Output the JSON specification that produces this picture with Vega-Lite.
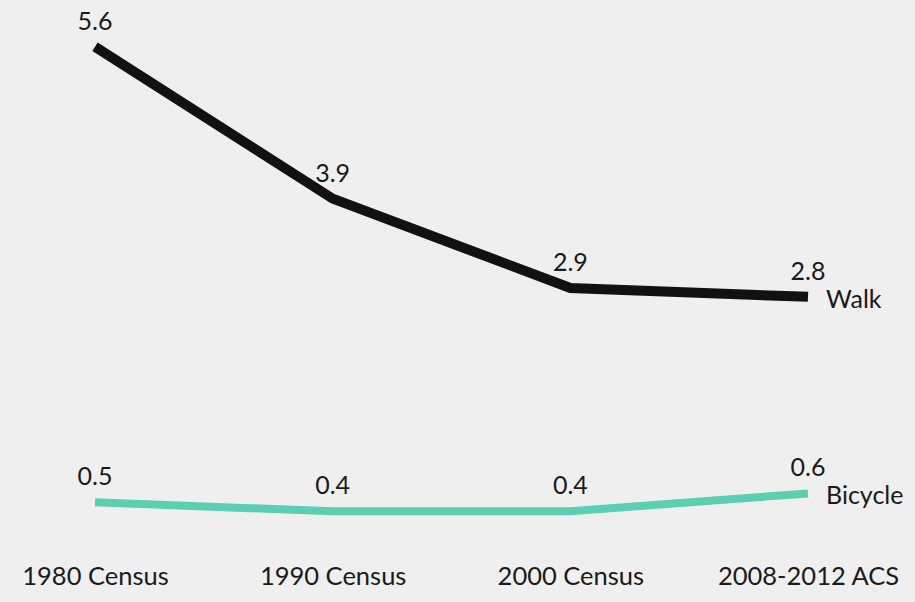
{
  "$schema": "https://vega.github.io/schema/vega-lite/v6.json",
  "width": 713,
  "height": 536,
  "autosize": {"type": "none"},
  "padding": {"left": 95, "top": 11, "right": 107, "bottom": 55},
  "background": "#efefef",
  "config": {"view": {"stroke": null}, "font": "Lato"},
  "data": {
    "values": [
      {"period": "1980 Census", "mode": "Walk", "value": 5.6},
      {"period": "1990 Census", "mode": "Walk", "value": 3.9},
      {"period": "2000 Census", "mode": "Walk", "value": 2.9},
      {"period": "2008-2012 ACS", "mode": "Walk", "value": 2.8},
      {"period": "1980 Census", "mode": "Bicycle", "value": 0.5},
      {"period": "1990 Census", "mode": "Bicycle", "value": 0.4},
      {"period": "2000 Census", "mode": "Bicycle", "value": 0.4},
      {"period": "2008-2012 ACS", "mode": "Bicycle", "value": 0.6}
    ]
  },
  "encoding": {
    "x": {
      "field": "period",
      "type": "ordinal",
      "sort": ["1980 Census", "1990 Census", "2000 Census", "2008-2012 ACS"],
      "scale": {"type": "point", "padding": 0},
      "axis": {
        "title": null,
        "domain": false,
        "ticks": false,
        "labelAngle": 0,
        "labelFontSize": 25.5,
        "labelColor": "#1a1a1a",
        "labelPadding": 17,
        "labelFont": "Lato",
        "labelLimit": 400,
        "labelOverlap": false,
        "labelBound": false
      }
    },
    "y": {
      "field": "value",
      "type": "quantitative",
      "scale": {"domain": [0, 6], "nice": false},
      "axis": null
    }
  },
  "layer": [
    {
      "mark": {"type": "line", "strokeCap": "butt", "strokeJoin": "miter"},
      "encoding": {
        "color": {
          "field": "mode",
          "type": "nominal",
          "scale": {"domain": ["Walk", "Bicycle"], "range": ["#111111", "#5ccfae"]},
          "legend": null
        },
        "strokeWidth": {
          "field": "mode",
          "type": "nominal",
          "scale": {"domain": ["Walk", "Bicycle"], "range": [10, 8]},
          "legend": null
        }
      }
    },
    {
      "mark": {"type": "text", "dy": -25, "fontSize": 25, "color": "#1a1a1a", "font": "Lato"},
      "encoding": {
        "text": {"field": "value", "type": "quantitative", "format": ".1f"}
      }
    },
    {
      "transform": [{"filter": "datum.period === '2008-2012 ACS'"}],
      "mark": {"type": "text", "align": "left", "dx": 18, "dy": 3, "fontSize": 25, "color": "#1a1a1a", "font": "Lato"},
      "encoding": {
        "text": {"field": "mode", "type": "nominal"}
      }
    }
  ]
}
